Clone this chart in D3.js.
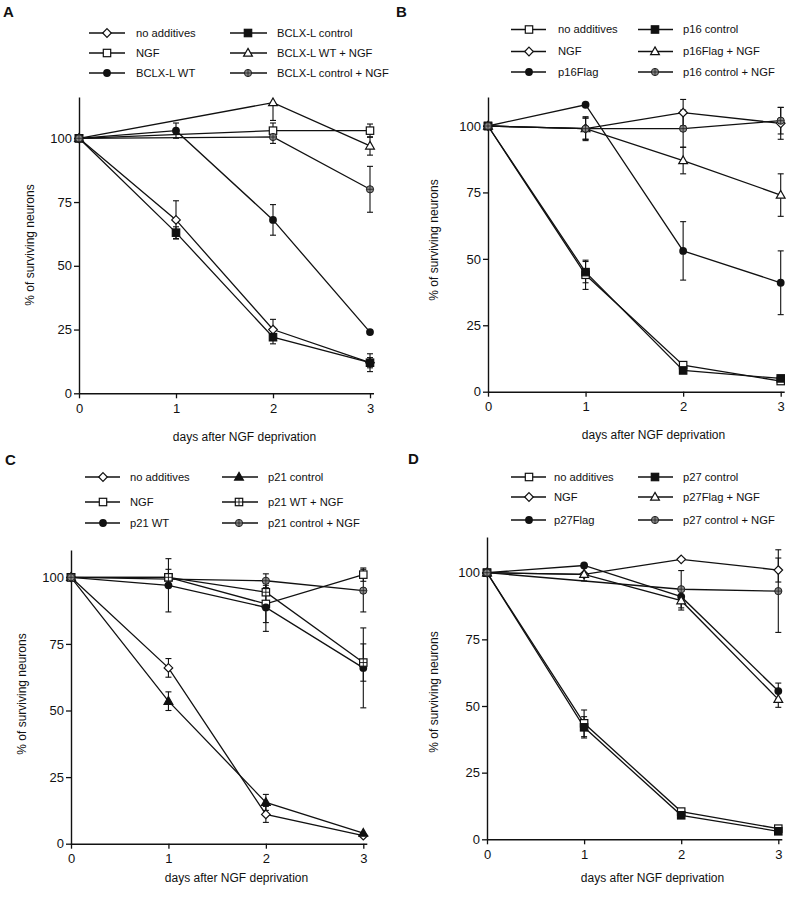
<!DOCTYPE html>
<html><head><meta charset="utf-8">
<script src="https://cdn.jsdelivr.net/npm/d3@7"></script>
<style>
body{margin:0;background:#fff}
svg{display:block}
text{font-family:"Liberation Sans",Arial,Helvetica,sans-serif;fill:#111}
</style>
</head><body>
<svg id="chart" width="792" height="900"></svg>
<script>
// ---------- shared labels / ticks ----------
const dayTicks = [0, 1, 2, 3];
const yTicks = [0, 25, 50, 75, 100];
const xTitle = "days after NGF deprivation";
const yTitle = "% of surviving neurons";
const D4 = [0, 1, 2, 3];
const D3 = [0, 2, 3];

// ---------- Panel A ----------
const aNames   = ["no additives", "NGF", "BCLX-L WT", "BCLX-L control", "BCLX-L WT + NGF", "BCLX-L control + NGF"];
const aMarkers = ["diamond", "square", "circle", "squareFilled", "triangle", "crossCircle"];
const aDays    = [D4, D3, D4, D4, D3, D3];
const aValues  = [[100, 68, 25, 12], [100, 103, 103], [100, 103, 68, 24], [100, 63, 22, 12], [100, 114, 97], [100, 100.5, 80]];
const aErrors  = [[0, 7.5, 4, 3.5], [0, 3, 2.6], [0, 3, 6, 0], [0, 2.3, 2.6, 2], [0, [7, 0], 3.6], [0, 2.5, 9]];

// ---------- Panel B ----------
const bNames   = ["no additives", "NGF", "p16Flag", "p16 control", "p16Flag + NGF", "p16 control + NGF"];
const bMarkers = ["square", "diamond", "circle", "squareFilled", "triangle", "crossCircle"];
const bDays    = [D4, D4, D4, D4, D4, D4];
const bValues  = [[100, 44, 10, 4], [100, 99, 105, 101], [100, 108, 53, 41], [100, 45, 8, 5], [100, 99, 87, 74], [100, 99, 99, 102]];
const bErrors  = [[0, 5.5, 0, 0], [0, 4.5, 5, 6], [0, 0, 11, 12], [0, 4, 0, 0], [0, 4, 5, 8], [0, 4, 7, 5]];

// ---------- Panel C ----------
const cNames   = ["no additives", "NGF", "p21 WT", "p21 control", "p21 WT + NGF", "p21 control + NGF"];
const cMarkers = ["diamond", "square", "circle", "triangleFilled", "crossSquare", "crossCircle"];
const cDays    = [D4, D4, D4, D4, D4, D3];
const cValues  = [[100, 66, 11, 3], [100, 100, 90, 101], [100, 97, 88.7, 66], [100, 53.5, 15.5, 4], [100, 100, 94.4, 68], [100, 98.7, 95]];
const cErrors  = [[0, 3.5, 3, 0], [0, 3, 7, 2.5], [0, 10, 9, 15], [0, 3.5, 3, 0], [0, 0, 0, 7], [0, 2.6, 8]];

// ---------- Panel D ----------
const dNames   = ["no additives", "NGF", "p27Flag", "p27 control", "p27Flag + NGF", "p27 control + NGF"];
const dMarkers = ["square", "diamond", "circle", "squareFilled", "triangle", "crossCircle"];
const dDays    = [D4, D4, D4, D4, D4, D3];
const dValues  = [[100, 43.5, 10.4, 4], [100, 99.4, 105, 101], [100, 102.7, 91, 55.6], [100, 42, 9, 3], [100, 99.4, 89.5, 52.5], [100, 93.8, 93.1]];
const dErrors  = [[0, 5, 0, 0], [0, 0, 0, 4.5], [0, 0, 0, 3], [0, 4, 0, 0], [0, 2.5, 3.5, 3], [0, 7, 15.5]];

// ---------- layout ----------
const panels = [
  {letter: "A", lx: 3, ly: 17, x0: 79, x3: 370, y0: 393.3, y100: 138.3, yTop: 97,
   rows: [33, 53, 73], cols: [{a: 89, b: 125, m: 107, t: 136}, {a: 230, b: 267, m: 248, t: 277}],
   xtX: 244.5, xtY: 440.5, ytX: 30, ytY: 245,
   names: aNames, markers: aMarkers, days: aDays, values: aValues, errors: aErrors},
  {letter: "B", lx: 396, ly: 17, x0: 488, x3: 780.7, y0: 391.7, y100: 126, yTop: 97,
   rows: [29.5, 51.5, 72], cols: [{a: 511, b: 546, m: 529, t: 558}, {a: 638, b: 673, m: 655, t: 683}],
   xtX: 653.5, xtY: 439, ytX: 434, ytY: 240,
   names: bNames, markers: bMarkers, days: bDays, values: bValues, errors: bErrors},
  {letter: "C", lx: 5, ly: 465, x0: 71, x3: 363.3, y0: 843.7, y100: 577.3, yTop: 550,
   rows: [477, 502, 523], cols: [{a: 85, b: 120, m: 103, t: 130}, {a: 222, b: 258, m: 239, t: 268}],
   xtX: 236.5, xtY: 882, ytX: 22, ytY: 694,
   names: cNames, markers: cMarkers, days: cDays, values: cValues, errors: cErrors},
  {letter: "D", lx: 408, ly: 464, x0: 487, x3: 778.3, y0: 839.3, y100: 572.7, yTop: 537,
   rows: [477, 497, 520], cols: [{a: 511, b: 546, m: 529, t: 554}, {a: 638, b: 673, m: 655, t: 683}],
   xtX: 652.5, xtY: 882, ytX: 434, ytY: 692,
   names: dNames, markers: dMarkers, days: dDays, values: dValues, errors: dErrors}
];

const svg = d3.select("#chart");
const INK = "#111";

function drawMarker(g, type, x, y) {
  const s = 3.7;
  if (type === "square" || type === "squareFilled" || type === "crossSquare") {
    g.append("rect").attr("x", x - s).attr("y", y - s).attr("width", 2 * s).attr("height", 2 * s)
      .attr("fill", type === "squareFilled" ? INK : "#fff").attr("stroke", INK).attr("stroke-width", 1.2);
    if (type === "crossSquare") {
      g.append("path").attr("d", `M${x - s},${y}H${x + s}M${x},${y - s}V${y + s}`)
        .attr("stroke", INK).attr("stroke-width", 0.9).attr("fill", "none");
    }
  } else if (type === "diamond") {
    const r = 4.3;
    g.append("path").attr("d", `M${x},${y - r}L${x + r},${y}L${x},${y + r}L${x - r},${y}Z`)
      .attr("fill", "#fff").attr("stroke", INK).attr("stroke-width", 1.2);
  } else if (type === "circle") {
    g.append("circle").attr("cx", x).attr("cy", y).attr("r", 3.9).attr("fill", INK);
  } else if (type === "triangle" || type === "triangleFilled") {
    g.append("path").attr("d", `M${x},${y - 4.6}L${x + 4.4},${y + 3.1}L${x - 4.4},${y + 3.1}Z`)
      .attr("fill", type === "triangleFilled" ? INK : "#fff").attr("stroke", INK).attr("stroke-width", 1.2);
  } else if (type === "crossCircle") {
    g.append("circle").attr("cx", x).attr("cy", y).attr("r", 3.6)
      .attr("fill", "#8a8a8a").attr("stroke", "#222").attr("stroke-width", 1);
    g.append("path").attr("d", `M${x - 3.6},${y}H${x + 3.6}M${x},${y - 3.6}V${y + 3.6}`)
      .attr("stroke", "#222").attr("stroke-width", 0.8);
  }
}

panels.forEach(p => {
  const g = svg.append("g");
  const x = d3.scaleLinear().domain([0, 3]).range([p.x0, p.x3]);
  const y0s = d3.scaleLinear().domain([0, 100]).range([p.y0, p.y100]);
  const yMax = y0s.invert(p.yTop);
  const y = d3.scaleLinear().domain([0, yMax]).range([p.y0, p.yTop]);
  const xEnd = x.invert(p.x3 + 3.5);
  const xAxisScale = d3.scaleLinear().domain([0, xEnd]).range([p.x0, p.x3 + 3.5]);

  // panel letter
  g.append("text").attr("x", p.lx).attr("y", p.ly).attr("font-size", 15).attr("font-weight", "bold").text(p.letter);

  // axes
  const xa = g.append("g").attr("transform", `translate(0,${p.y0})`)
    .call(d3.axisBottom(xAxisScale).tickValues(dayTicks).tickFormat(d3.format("d")).tickSize(5).tickSizeOuter(0).tickPadding(5));
  const ya = g.append("g").attr("transform", `translate(${p.x0},0)`)
    .call(d3.axisLeft(y).tickValues(yTicks).tickSize(5).tickSizeOuter(0).tickPadding(2));
  [xa, ya].forEach(a => {
    a.selectAll("path.domain").attr("stroke", INK).attr("stroke-width", 1.4);
    a.selectAll(".tick line").attr("stroke", INK).attr("stroke-width", 1.3);
    a.selectAll(".tick text").attr("font-size", 13).attr("fill", INK)
      .attr("font-family", "'Liberation Sans',Arial,Helvetica,sans-serif");
  });

  // axis titles
  g.append("text").attr("x", p.xtX).attr("y", p.xtY).attr("text-anchor", "middle").attr("font-size", 12).text(xTitle);
  g.append("text").attr("transform", `translate(${p.ytX},${p.ytY}) rotate(-90)`)
    .attr("text-anchor", "middle").attr("dy", "0.35em").attr("font-size", 12).text(yTitle);

  const line = d3.line().x(d => x(d[0])).y(d => y(d[1]));

  // lines
  p.values.forEach((vals, i) => {
    const pts = vals.map((v, j) => [p.days[i][j], v]);
    g.append("path").attr("d", line(pts)).attr("fill", "none").attr("stroke", INK).attr("stroke-width", 1.3);
  });

  // error bars
  p.values.forEach((vals, i) => {
    vals.forEach((v, j) => {
      const e = p.errors[i][j];
      const lo = Array.isArray(e) ? e[0] : e;
      const hi = Array.isArray(e) ? e[1] : e;
      if (!lo && !hi) return;
      const cx = x(p.days[i][j]);
      const yl = y(v - lo), yh = y(v + hi);
      g.append("line").attr("x1", cx).attr("x2", cx).attr("y1", yl).attr("y2", yh)
        .attr("stroke", INK).attr("stroke-width", 1.1);
      if (lo) g.append("line").attr("x1", cx - 3).attr("x2", cx + 3).attr("y1", yl).attr("y2", yl).attr("stroke", INK).attr("stroke-width", 1.1);
      if (hi) g.append("line").attr("x1", cx - 3).attr("x2", cx + 3).attr("y1", yh).attr("y2", yh).attr("stroke", INK).attr("stroke-width", 1.1);
    });
  });

  // markers
  p.values.forEach((vals, i) => {
    vals.forEach((v, j) => drawMarker(g, p.markers[i], x(p.days[i][j]), y(v)));
  });

  // legend
  p.names.forEach((name, i) => {
    const col = p.cols[Math.floor(i / 3)];
    const ry = p.rows[i % 3];
    g.append("line").attr("x1", col.a).attr("x2", col.b).attr("y1", ry).attr("y2", ry)
      .attr("stroke", INK).attr("stroke-width", 1.3);
    drawMarker(g, p.markers[i], col.m, ry);
    g.append("text").attr("x", col.t).attr("y", ry).attr("dy", "0.35em").attr("font-size", 11.2).text(name);
  });
});
</script>
</body></html>
